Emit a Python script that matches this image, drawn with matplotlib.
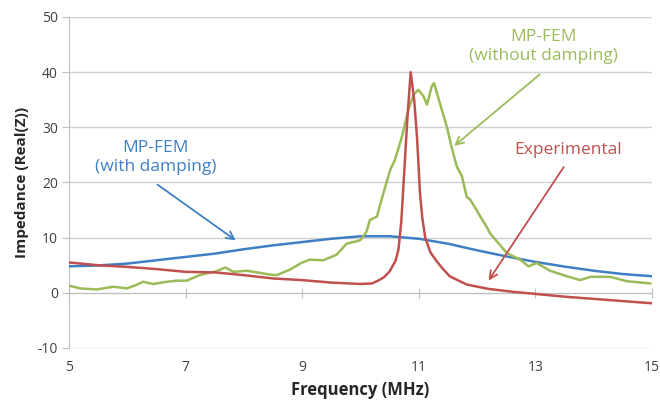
import matplotlib
matplotlib.use("Agg")
import matplotlib.pyplot as plt

plt.rcParams['font.family'] = ['Open Sans', 'DejaVu Sans']
plt.rcParams['axes.unicode_minus'] = False

# ---- data ----
x_damp = [5, 5.5, 6, 6.5, 7, 7.5, 8, 8.5, 9, 9.5, 10, 10.5, 11, 11.5, 12, 12.5, 13, 13.5, 14, 14.5, 15]
y_damp = [4.8, 4.95, 5.3, 5.9, 6.5, 7.1, 7.9, 8.6, 9.2, 9.8, 10.25, 10.25, 9.8, 8.9, 7.7, 6.6, 5.6, 4.75, 4.0, 3.4, 3.0]

x_exp = [5, 5.5, 6, 6.5, 7, 7.5, 8, 8.5, 9, 9.5, 10, 10.2, 10.3, 10.4, 10.5, 10.6, 10.65,
         10.7, 10.75, 10.8, 10.86, 10.92, 10.97, 11.02, 11.06, 11.11, 11.2, 11.3, 11.4, 11.53,
         11.82, 12.2, 12.6, 13.1, 13.5, 14, 14.5, 15]
y_exp = [5.5, 5.0, 4.7, 4.3, 3.8, 3.7, 3.2, 2.6, 2.3, 1.85, 1.6, 1.7, 2.2, 2.8, 3.9, 5.8, 7.8,
         13, 22, 31, 40, 35, 28, 18, 13.5, 10, 7.3, 5.8, 4.5, 3.0,
         1.5, 0.7, 0.2, -0.3, -0.7, -1.1, -1.5, -1.9]

x_nodamp = [5.0, 5.19, 5.47, 5.76, 5.99, 6.15, 6.27, 6.44, 6.68, 6.85, 7.02, 7.25, 7.53, 7.68,
            7.82, 8.05, 8.28, 8.45, 8.56, 8.79, 9.0, 9.13, 9.36, 9.59, 9.76, 9.99, 10.1, 10.16,
            10.28, 10.39, 10.51, 10.59, 10.71, 10.82, 10.91, 10.99, 11.08, 11.14, 11.22, 11.26,
            11.36, 11.48, 11.56, 11.65, 11.74, 11.82, 11.88, 11.99, 12.05, 12.16, 12.22, 12.34,
            12.51, 12.74, 12.88, 13.02, 13.25, 13.54, 13.77, 13.94, 14.28, 14.57, 14.97]
y_nodamp = [1.3, 0.8, 0.6, 1.1, 0.8, 1.4, 2.0, 1.6, 2.0, 2.2, 2.2, 3.25, 3.9, 4.6,
            3.8, 4.0, 3.6, 3.3, 3.2, 4.2, 5.5, 6.0, 5.9, 6.9, 8.9, 9.5, 11.0, 13.2,
            13.8, 18.0, 22.3, 24.1, 28.3, 33.2, 35.9, 36.8, 35.6, 34.1, 37.4, 38.0,
            34.4, 30.1, 26.5, 22.9, 21.1, 17.4, 16.9, 15.0, 13.9, 12.0, 10.8, 9.3,
            7.2, 6.0, 4.8, 5.4, 4.0, 3.0, 2.3, 2.9, 2.9, 2.1, 1.7]

x_ticks = [5, 7, 9, 11, 13, 15]
y_ticks = [-10, 0, 10, 20, 30, 40, 50]

BLUE = '#3F7FC4'
RED = '#C0504D'
GREEN = '#9BBB59'
GRID = '#D0D0D0'

fig = plt.figure(figsize=(6.6, 4.03), dpi=100)
ax = fig.add_axes([0.1045, 0.1365, 0.8835, 0.8215])

ax.set_xlim(5, 15)
ax.set_ylim(-10, 50)
ax.set_yticks(y_ticks)
ax.yaxis.grid(True, color=GRID, linewidth=1)
ax.set_axisbelow(True)

for s in ['top', 'right']:
    ax.spines[s].set_visible(False)
ax.spines['left'].set_color('#BFBFBF')
ax.spines['bottom'].set_position(('data', 0))
ax.spines['bottom'].set_color('#BFBFBF')

ax.set_xticks(x_ticks)
ax.tick_params(axis='x', direction='inout', length=7, color='#BFBFBF', labelbottom=False)
ax.tick_params(axis='y', direction='out', length=5, color='#BFBFBF', labelsize=10,
               labelcolor='#404040', pad=3)

sec = ax.secondary_xaxis('bottom')
sec.set_xticks(x_ticks)
sec.tick_params(length=0, labelsize=10, labelcolor='#404040', pad=9)
sec.spines['bottom'].set_visible(False)

ax.plot(x_damp, y_damp, color=BLUE, lw=1.8, zorder=3)
ax.plot(x_nodamp, y_nodamp, color=GREEN, lw=1.8, zorder=3)
ax.plot(x_exp, y_exp, color=RED, lw=1.8, zorder=4)

sec.set_xlabel('Frequency (MHz)', fontsize=12, fontweight='bold', color='#262626', labelpad=4)
ax.set_ylabel('Impedance (Real(Z))', fontsize=11, fontweight='bold', color='#262626', labelpad=6)

ax.text(6.48, 24.6, 'MP-FEM\n(with damping)', color=BLUE, fontsize=12.5,
        ha='center', va='center', linespacing=1.25)
ax.annotate('', xy=(7.9, 9.2), xytext=(6.48, 19.9),
            arrowprops=dict(arrowstyle='->', color=BLUE, lw=1.3, mutation_scale=14))

ax.text(13.13, 44.6, 'MP-FEM\n(without damping)', color=GREEN, fontsize=12.5,
        ha='center', va='center', linespacing=1.25)
ax.annotate('', xy=(11.57, 26.3), xytext=(13.11, 39.9),
            arrowprops=dict(arrowstyle='->', color=GREEN, lw=1.3, mutation_scale=14))

ax.text(13.56, 25.9, 'Experimental', color=RED, fontsize=12.5, ha='center', va='center')
ax.annotate('', xy=(12.17, 1.8), xytext=(13.51, 23.2),
            arrowprops=dict(arrowstyle='->', color=RED, lw=1.3, mutation_scale=14))

fig.savefig('out.png', dpi=100)
